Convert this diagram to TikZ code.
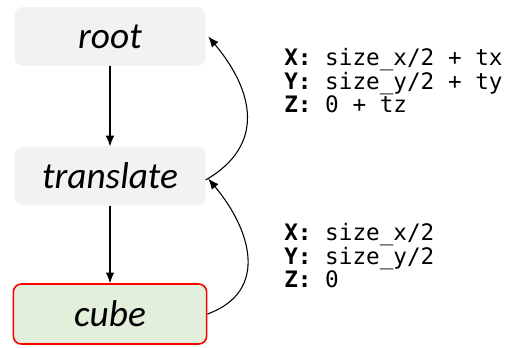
\documentclass[tikz,border=0pt]{standalone}
\usepackage{fontspec}
\setmainfont{Carlito}
\setmonofont{DejaVu Sans Mono}
\usetikzlibrary{arrows.meta}
\definecolor{boxgray}{HTML}{F2F2F2}
\definecolor{boxgreen}{HTML}{E2EFDA}
\tikzset{
  frame/.style={rounded corners=6pt, minimum width=143pt, minimum height=44pt,
    font=\fontsize{28}{30}\selectfont\itshape, inner sep=0pt},
  plainbox/.style={frame, fill=boxgray},
  leafbox/.style={frame, fill=boxgreen, draw=red, line width=1.2pt, minimum width=145pt, minimum height=45pt},
  coordtext/.style={anchor=north west, inner sep=0pt, align=left,
    font=\ttfamily\fontsize{17}{15}\selectfont},
  link/.style={-{Latex[length=8pt,width=6.5pt]}, line width=0.8pt}
}
\begin{document}
\begin{tikzpicture}[x=0.75pt,y=0.75pt]
\useasboundingbox (0,0) rectangle (516,347);

% boxes
\node[plainbox] (root) at (110,310.5) {root};
\node[plainbox] (translate) at (110,171) {translate};
\node[leafbox] (cube) at (110,33) {cube};

% down arrows
\draw[link] (root) -- (translate);
\draw[link] (translate) -- (cube);

% back arrows
\draw[link] ([yshift=-3pt]translate.east) to[out=30,in=-50,looseness=1.25] ([xshift=2pt]root.east);
\draw[link] (cube.east) to[out=20,in=-50,looseness=1.25] ([xshift=2pt,yshift=-2pt]translate.east);

% coordinates of translate
\node[coordtext] (tcoords) at (284,299) {\textbf{X:} size\_x/2 + tx\\\textbf{Y:} size\_y/2 + ty\\\textbf{Z:} 0 + tz};

% coordinates of cube
\node[coordtext] (ccoords) at (284,124) {\textbf{X:} size\_x/2\\\textbf{Y:} size\_y/2\\\textbf{Z:} 0};

\end{tikzpicture}
\end{document}
